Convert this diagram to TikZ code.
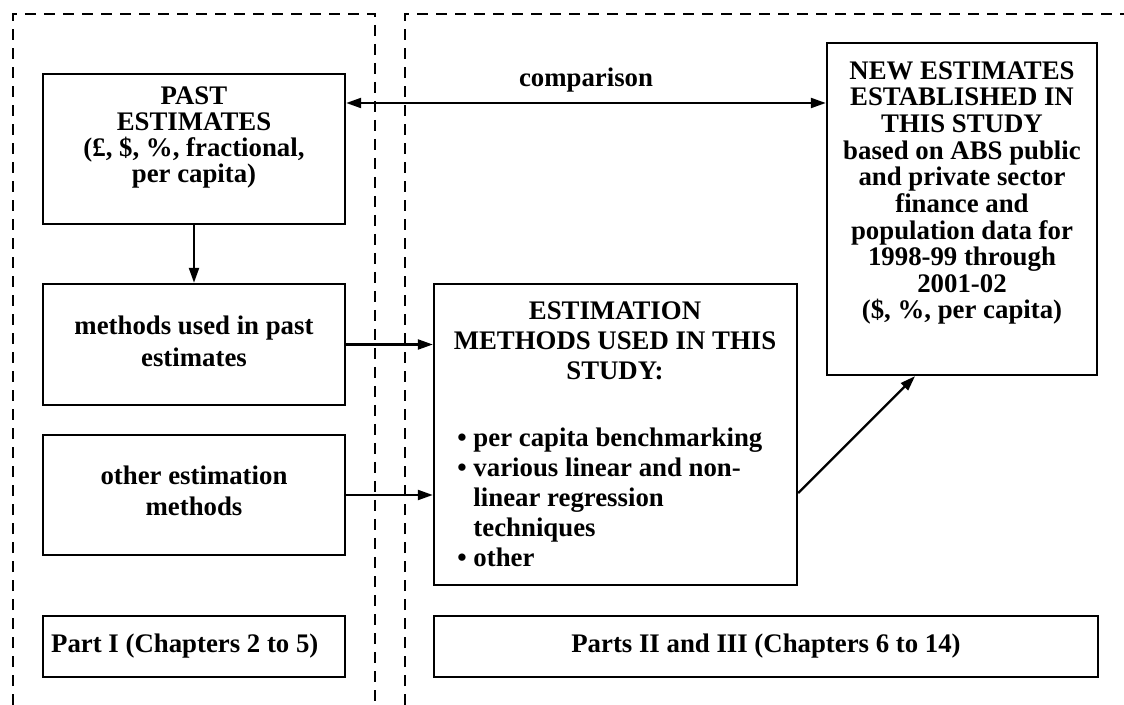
\documentclass[tikz,border=0pt]{standalone}
\usepackage{fontspec}
\setmainfont{Liberation Serif}
\usetikzlibrary{arrows.meta}
\usetikzlibrary{fit}
\newcommand{\lfont}[1]{\fontsize{13.4}{#1}\selectfont\bfseries}
\newcommand{\boxAt}[5]{\node[frame, fit={(#2,#3) (#4,#5)}] (#1) {};}
\tikzset{
  frame/.style={draw, line width=1.2pt, inner sep=0pt},
  part/.style={line width=1.3pt, dash pattern=on 5.5pt off 4pt},
  txt/.style={align=center, inner sep=0pt},
  conn/.style={-{Triangle[length=7.5pt,width=5pt]}, line width=1.1pt},
  both/.style={{Triangle[length=7.5pt,width=5pt]}-{Triangle[length=7.5pt,width=5pt]}, line width=1.1pt}
}

\begin{document}
\begin{tikzpicture}[x=0.5pt, y=-0.5pt]
        \useasboundingbox (0,0) rectangle (1124,705);
        % parts
        \draw[part] (13,705) -- (13,14) -- (375,14) -- (375,705);
        \draw[part] (405,705) -- (405,14) -- (1124,14);
        % left column
        \boxAt{past}{43}{74}{345}{224}
        \boxAt{pastm}{43}{284}{345}{405}
        \boxAt{other}{43}{435}{345}{555}
        \boxAt{partI}{43}{616}{345}{677}
        % right column
        \boxAt{est}{434}{284}{797}{585}
        \boxAt{new}{827}{43}{1097}{375}
        \boxAt{partII}{434}{616}{1098}{677}
        % texts
        \node[txt, font=\lfont{13pt}] (pastT) at (194,137) {PAST\\ESTIMATES\\(£, \$, \%, fractional,\\per capita)};
        \node[txt, font=\lfont{16pt}] (pastmT) at (194,341) {methods used in past\\estimates};
        \node[txt, font=\lfont{15.5pt}] (otherT) at (194,491) {other estimation\\methods};
        \node[txt, font=\lfont{13pt}, anchor=west] (partIT) at ([xshift=4.5pt]partI.west) {Part I (Chapters 2 to 5)};
        \node[txt, font=\lfont{15pt}] (estH) at (615,341) {ESTIMATION\\METHODS USED IN THIS\\STUDY:};
        \node[txt, font=\lfont{15pt}, align=left, anchor=west] (estL) at (457,497) {• per capita benchmarking\\• various linear and non-\\\hphantom{• }linear regression\\\hphantom{• }techniques\\• other};
        \node[txt, font=\lfont{13.33pt}] (newT) at (962,193) {NEW ESTIMATES\\ESTABLISHED IN\\THIS STUDY\\based on ABS public\\and private sector\\finance and\\population data for\\1998-99 through\\2001-02\\(\$, \%, per capita)};
        \node[txt, font=\lfont{13pt}] (partIIT) at (partII) {Parts II and III (Chapters 6 to 14)};
        % arrows
        \coordinate (cmp) at (0,103);
        \coordinate (estOut) at (0,493);
        \coordinate (newIn) at (915,0);
        \draw[both] (past.east |- cmp) -- node[txt, above=5pt, font=\lfont{13pt}] (cmpL) {comparison} (new.west |- cmp);
        \draw[conn] (past) -- (pastm);
        \draw[conn] (pastm.east) -- (pastm.east -| est.west);
        \draw[conn] (other.east) -- (other.east -| est.west);
        \draw[conn] (est.east |- estOut) -- (new.south -| newIn);
\end{tikzpicture}
\end{document}
